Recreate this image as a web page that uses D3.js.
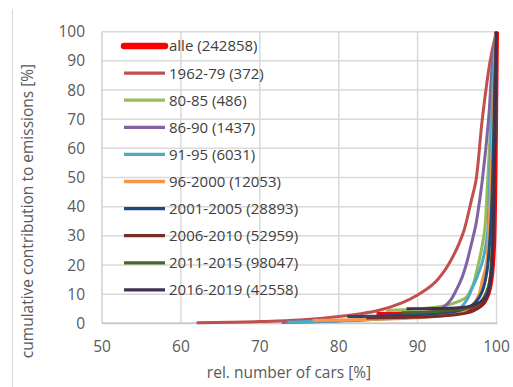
<!DOCTYPE html>
<meta charset="utf-8">
<head>
    <title>Cumulative contribution to emissions</title>
    <script src="https://d3js.org/d3.v7.min.js"></script>
    <style>
        body { margin: 0; background: #fff; }
        svg text { font-family: "Open Sans", sans-serif; }
        .tick-label { font-size: 15.5px; fill: #595959; }
        .legend-label { font-size: 15px; fill: #404040; }
        .axis-title { font-size: 15.5px; fill: #595959; }
    </style>
</head>
<body>
<div id="chart"></div>
<script>
    // data: [rel. number of cars %, cumulative emissions %]
    var seriesNames = ["alle (242858)", "1962-79 (372)", "80-85 (486)", "86-90 (1437)", "91-95 (6031)",
        "96-2000 (12053)", "2001-2005 (28893)", "2006-2010 (52959)", "2011-2015 (98047)", "2016-2019 (42558)"]

    var alle = [[84.8, 3.0], [88, 3.2], [92, 3.5], [95, 4.1], [97, 5.2], [98.3, 7], [98.9, 10], [99.3, 15], [99.6, 25], [99.8, 50], [99.9, 75], [100, 100]]
    var y1962 = [[62, 0.2], [70, 0.6], [75, 1.1], [80, 2.3], [85, 4.4], [88, 7], [90, 9.7], [92, 13.5], [93.4, 18], [94.4, 22.5], [95.2, 27], [95.9, 32], [96.8, 42], [97.4, 49], [98.2, 70], [99.2, 90], [100, 100]]
    var y1980 = [[86, 4.4], [90, 4.9], [92.5, 5.6], [94, 6.4], [95.2, 7.5], [96.2, 9], [97, 13], [97.5, 18], [98, 24], [98.5, 32], [98.8, 45], [99.2, 65], [99.6, 85], [100, 100]]
    var y1986 = [[72.8, 0.3], [80, 0.8], [85, 1.5], [90, 3], [92.5, 4.6], [93.4, 5.8], [94.2, 8], [94.9, 11.4], [95.6, 15.5], [96.2, 20.5], [96.8, 27], [97.4, 34], [97.8, 41], [98.2, 49], [99, 70], [99.5, 90], [100, 100]]
    var y1991 = [[73.5, 0.4], [80, 0.9], [85, 1.4], [90, 2.2], [94, 3.5], [95.5, 5.5], [96.3, 8.3], [96.8, 11.4], [97.4, 15], [97.9, 18.5], [98.2, 21], [98.6, 26], [98.9, 32], [99.1, 49], [99.4, 70], [99.7, 90], [100, 100]]
    var y1996 = [[76.7, 1.0], [80, 1.1], [85, 1.4], [90, 1.9], [94, 2.9], [96, 4.4], [97.2, 7], [97.8, 10], [98.2, 14.8], [98.7, 20], [99, 30], [99.3, 49], [99.6, 70], [99.8, 90], [100, 100]]
    var y2001 = [[81.1, 2.3], [84, 2.4], [88, 2.8], [92, 3.3], [95, 4.2], [96.5, 5.5], [97.4, 7.4], [98.2, 11], [98.8, 18], [99.3, 35], [99.6, 60], [99.8, 85], [100, 100]]
    var y2006 = [[83.5, 1.8], [88, 2.0], [92, 2.3], [95, 3.0], [97, 4.2], [98.3, 6.5], [98.9, 10], [99.3, 16], [99.6, 35], [99.8, 65], [100, 100]]
    var y2011 = [[88, 3.6], [92, 4.0], [95.7, 4.9], [97.5, 6.2], [98.2, 8], [99.1, 13.8], [99.5, 30], [99.8, 65], [100, 100]]
    var y2016 = [[88.6, 5.0], [92, 5.1], [95.7, 5.4], [97.6, 6.8], [98.7, 9.1], [99.3, 16], [99.6, 35], [99.8, 65], [100, 100]]

    var seriesData = [alle, y1962, y1980, y1986, y1991, y1996, y2001, y2006, y2011, y2016]

    var xTicks = [50, 60, 70, 80, 90, 100]
    var yTicks = [0, 10, 20, 30, 40, 50, 60, 70, 80, 90, 100]

    // styles
    var colors = ["#ff0000", "#c0504d", "#9bbb59", "#8064a2", "#4bacc6", "#f79646", "#1f497d", "#772c2a", "#4f6228", "#403151"]
    var widths = [5, 3, 3, 3, 3, 3, 3, 3, 3, 3]

    var width = 513, height = 387
    var margin = {top: 31.7, right: 16, bottom: 63.7, left: 102}

    var svg = d3.select("#chart")
        .append("svg")
        .attr("width", width)
        .attr("height", height)

    // thin frame line on the left edge
    svg.append("line")
        .attr("x1", 12.5).attr("x2", 12.5)
        .attr("y1", 9).attr("y2", height)
        .style("stroke", "#d9d9d9")
        .style("stroke-width", 1)

    var x = d3.scaleLinear()
        .domain([50, 100])
        .range([margin.left, width - margin.right - 0.5])

    var y = d3.scaleLinear()
        .domain([0, 100])
        .range([height - margin.bottom, margin.top])

    // grid
    svg.append("g")
        .selectAll("line")
        .data(yTicks.slice(1))
        .enter()
        .append("line")
        .attr("x1", x(50)).attr("x2", x(100))
        .attr("y1", function (d) { return y(d) })
        .attr("y2", function (d) { return y(d) })
        .style("stroke", "#d9d9d9")
        .style("stroke-width", 1.5)

    svg.append("g")
        .selectAll("line")
        .data(xTicks.slice(1))
        .enter()
        .append("line")
        .attr("x1", function (d) { return x(d) })
        .attr("x2", function (d) { return x(d) })
        .attr("y1", y(0)).attr("y2", y(100))
        .style("stroke", "#d9d9d9")
        .style("stroke-width", 1.5)

    // axis lines
    svg.append("line")
        .attr("x1", x(50)).attr("x2", x(50))
        .attr("y1", y(0)).attr("y2", y(100))
        .style("stroke", "#d0d0d0")
        .style("stroke-width", 1.5)
    svg.append("line")
        .attr("x1", x(50)).attr("x2", x(100) + 1)
        .attr("y1", y(0)).attr("y2", y(0))
        .style("stroke", "#c8c8c8")
        .style("stroke-width", 2)

    // tick labels
    svg.append("g")
        .selectAll("text")
        .data(yTicks)
        .enter()
        .append("text")
        .attr("class", "tick-label")
        .attr("x", 85)
        .attr("y", function (d) { return y(d) })
        .attr("dy", "0.36em")
        .attr("text-anchor", "end")
        .text(function (d) { return d })

    svg.append("g")
        .selectAll("text")
        .data(xTicks)
        .enter()
        .append("text")
        .attr("class", "tick-label")
        .attr("x", function (d) { return x(d) })
        .attr("y", 352)
        .attr("text-anchor", "middle")
        .text(function (d) { return d })

    // axis titles
    svg.append("text")
        .attr("class", "axis-title")
        .attr("x", 289)
        .attr("y", 378)
        .attr("text-anchor", "middle")
        .text("rel. number of cars [%]")

    svg.append("text")
        .attr("class", "axis-title")
        .attr("transform", "translate(33, 211) rotate(-90)")
        .attr("text-anchor", "middle")
        .text("cumulative contribution to emissions [%]")

    // curves
    var line = d3.line()
        .x(function (d) { return x(d[0]) })
        .y(function (d) { return y(d[1]) })
        .curve(d3.curveCatmullRom.alpha(0.5))

    svg.append("g")
        .selectAll("path")
        .data(seriesData)
        .enter()
        .append("path")
        .attr("d", line)
        .style("fill", "none")
        .style("stroke", function (d, i) { return colors[i] })
        .style("stroke-width", function (d, i) { return widths[i] })
        .style("stroke-linejoin", "round")

    // legend
    var legend = svg.append("g")
    var rowStep = 27.1
    legend.selectAll("line")
        .data(seriesNames)
        .enter()
        .append("line")
        .attr("x1", 124).attr("x2", 165)
        .attr("y1", function (d, i) { return 46 + i * rowStep })
        .attr("y2", function (d, i) { return 46 + i * rowStep })
        .style("stroke", function (d, i) { return colors[i] })
        .style("stroke-width", function (d, i) { return i === 0 ? 6.5 : 3.3 })
        .style("stroke-linecap", function (d, i) { return i === 0 ? "round" : "butt" })

    legend.selectAll("text")
        .data(seriesNames)
        .enter()
        .append("text")
        .attr("class", "legend-label")
        .attr("x", 169)
        .attr("y", function (d, i) { return 46 + i * rowStep })
        .attr("dy", "0.36em")
        .text(function (d) { return d })
</script>
</body>
